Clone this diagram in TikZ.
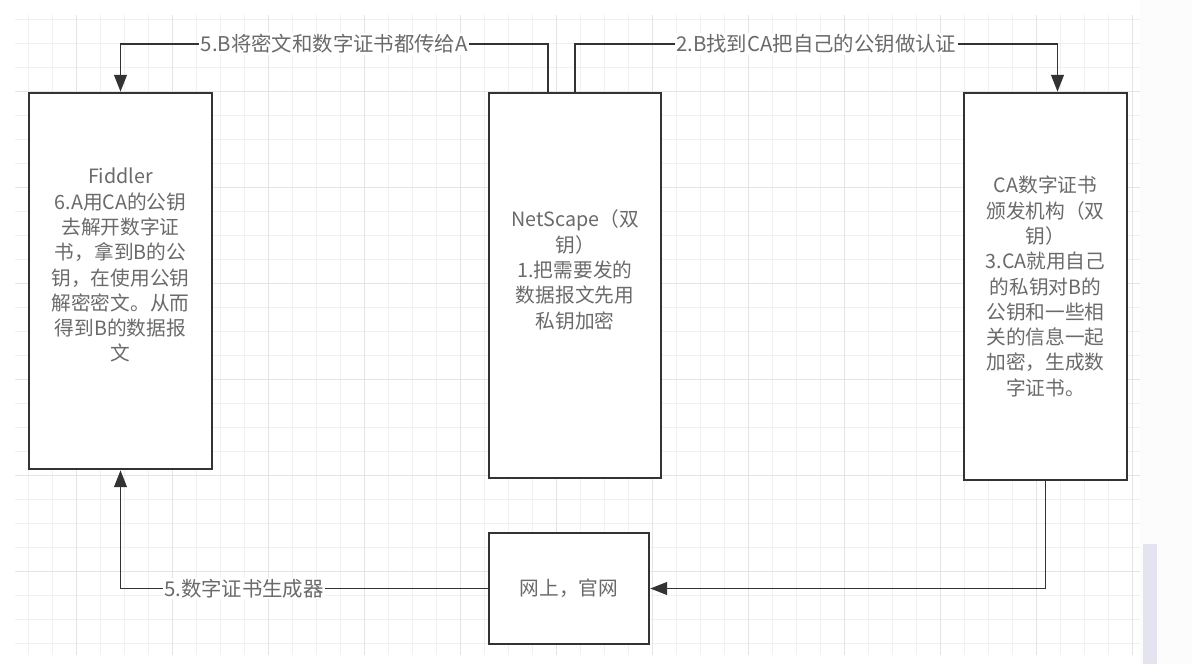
\documentclass[tikz,border=0pt]{standalone}
\usepackage{fontspec}
\newfontfamily\cjk{Noto Sans CJK SC}
\usetikzlibrary{arrows.meta}

\definecolor{linegray}{HTML}{333333}
\definecolor{textgray}{HTML}{6A6A6A}
\definecolor{gridminor}{HTML}{F0F0F0}
\definecolor{gridmajor}{HTML}{E4E4E4}
\definecolor{barblue}{HTML}{E4E4F0}

\begin{document}
\begin{tikzpicture}[x=0.025cm, y=-0.025cm,
    box/.style={draw=linegray, line width=1.7pt, fill=white, align=center, text=textgray,
      font=\cjk\fontsize{14}{18}\selectfont, inner sep=0pt},
    conn/.style={draw=linegray, line width=1.4pt, -{Triangle[length=12pt,width=9pt]}},
    lbl/.style={fill=white, text=textgray, font=\cjk\fontsize{14.5}{17}\selectfont, inner sep=1pt}]
    \useasboundingbox (0,0) rectangle (1192,664);

    % Background and grid
    \fill[white] (0,0) rectangle (1192,664);
    \fill[black!1] (1140,0) rectangle (1192,664);
    \foreach \x in {28,52,...,1132} \draw[gridminor, line width=0.6pt] (\x,15) -- (\x,655);
    \foreach \y in {19,43,...,643} \draw[gridminor, line width=0.6pt] (15,\y) -- (1140,\y);
    \foreach \x in {76,172,...,1132} \draw[gridmajor, line width=0.6pt] (\x,15) -- (\x,655);
    \foreach \y in {91,187,...,571} \draw[gridmajor, line width=0.6pt] (15,\y) -- (1140,\y);
    \fill[barblue] (1143,544) rectangle (1157,664);

    % Boxes
    \node[box, minimum width=4.575cm, minimum height=9.4cm] (fiddler) at (120.5,281)
      {Fiddler\\6.A用CA的公钥\\去解开数字证\\书，拿到B的公\\钥，在使用公钥\\解密密文。从而\\得到B的数据报\\文\\ \strut};
    \node[box, minimum width=4.3cm, minimum height=9.625cm] (netscape) at (575,285.5)
      {NetScape（双\\钥）\\1.把需要发的\\数据报文先用\\私钥加密\\ \strut};
    \node[box, minimum width=4.075cm, minimum height=9.675cm] (caorg) at (1045.5,286.5)
      {CA数字证书\\颁发机构（双\\钥）\\3.CA就用自己\\的私钥对B的\\公钥和一些相\\关的信息一起\\加密，生成数\\字证书。};
    \node[box, minimum width=4cm, minimum height=2.775cm] (web) at (569,588.5) {网上，官网};

    % Arrows
    \draw[conn] ([xshift=-0.675cm]netscape.north) -- ++(0,-48)
      -| node[lbl, pos=0.25] {5.B将密文和数字证书都传给A} (fiddler.north);
    \draw[conn] (netscape.north) -- ++(0,-48)
      -| node[lbl, pos=0.25] {2.B找到CA把自己的公钥做认证} ([xshift=0.3cm]caorg.north);
    \draw[conn] (caorg.south) |- (web.east);
    \draw[conn] (web.west) -| node[lbl, pos=0.332] {5.数字证书生成器} (fiddler.south);
\end{tikzpicture}
\end{document}
